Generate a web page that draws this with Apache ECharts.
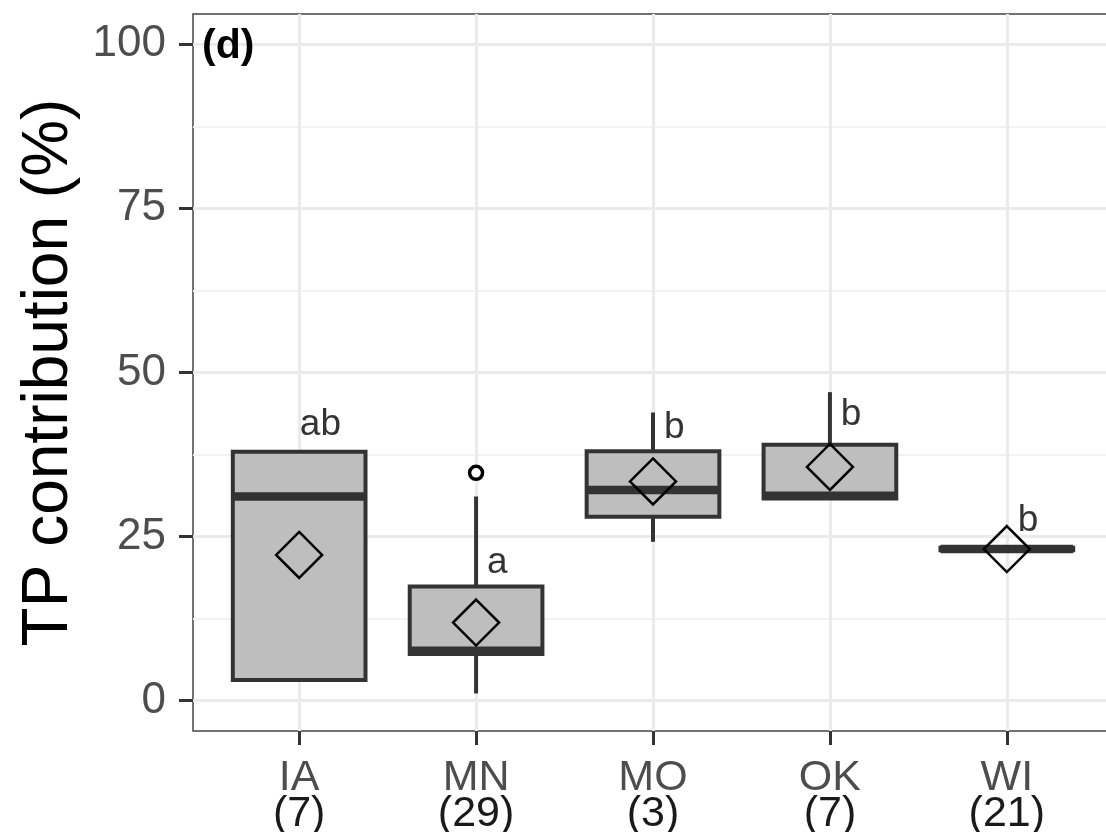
<!DOCTYPE html>
<html>
<head>
<meta charset="utf-8">
<script src="https://cdn.jsdelivr.net/npm/echarts@6/dist/echarts.min.js"></script>
<style>
html,body{margin:0;padding:0;background:#fff;}
#chart{width:1106px;height:832px;}
</style>
</head>
<body>
<div id="chart"></div>
<script>
// ---- data ----
const categories = ['IA', 'MN', 'MO', 'OK', 'WI'];
const counts = [7, 29, 3, 7, 21];
const whiskerLow = [3.15, 1.1, 24.2, 30.8, 22.9];
const q1 = [3.15, 7.1, 28.0, 30.8, 22.9];
const median = [31.1, 7.6, 32.1, 31.2, 23.1];
const q3 = [37.9, 17.4, 38.0, 39.0, 23.3];
const whiskerHigh = [37.9, 31.1, 43.9, 47.0, 23.3];
const means = [22.2, 11.9, 33.4, 35.6, 23.1];
const outlierCats = ['MN'];
const outlierValues = [34.7];
const letters = ['ab', 'a', 'b', 'b', 'b'];
const letterY = [42.0, 21.0, 41.6, 43.5, 27.4];
const yTicks = [0, 25, 50, 75, 100];
const yMinorTicks = [12.5, 37.5, 62.5, 87.5];

// ---- build series data ----
const catPos = categories.map((c, i) => i + 1);
const boxData = categories.map((c, i) => [i + 1, whiskerLow[i], q1[i], median[i], q3[i], whiskerHigh[i]]);
const meanData = categories.map((c, i) => [i + 1, means[i]]);
const outlierData = outlierCats.map((c, i) => [categories.indexOf(c) + 1, outlierValues[i]]);
const LETTER_NUDGE = 0.12;
const letterData = categories.map((c, i) => [i + 1 + LETTER_NUDGE, letterY[i], letters[i]]);

const FONT = 'Liberation Sans, Arial, sans-serif';
const BOX_WIDTH = 0.75;

const chart = echarts.init(document.getElementById('chart'), null, {renderer: 'canvas'});

const option = {
  backgroundColor: '#ffffff',
  animation: false,
  textStyle: {fontFamily: FONT},
  grid: {
    left: 193, top: 14, width: 920, height: 717,
    show: true, borderColor: '#444444', borderWidth: 1.5, backgroundColor: '#ffffff',
    containLabel: false, outerBoundsMode: 'none'
  },
  xAxis: {
    type: 'value', min: 0.4, max: 5.6,
    axisLine: {show: false, onZero: false},
    axisTick: {show: true, length: 14, customValues: catPos, lineStyle: {color: '#333333', width: 3}},
    splitLine: {show: true, lineStyle: {color: '#ebebeb', width: 3}},
    axisLabel: {
      customValues: catPos,
      margin: 29,
      formatter: v => {
        const i = Math.round(v) - 1;
        return '{a|' + categories[i] + '}\n{b|(' + counts[i] + ')}';
      },
      rich: {
        a: {fontSize: 43, color: '#4d4d4d', lineHeight: 36, fontFamily: FONT},
        b: {fontSize: 43, color: '#1a1a1a', lineHeight: 36, fontFamily: FONT}
      }
    }
  },
  yAxis: [{
    type: 'value', min: -4.62, max: 104.6,
    name: 'TP contribution (%)', nameLocation: 'middle', nameGap: 103,
    nameTextStyle: {fontSize: 64, color: '#000000', fontFamily: FONT},
    axisLine: {show: false, onZero: false},
    axisTick: {show: true, length: 14, customValues: yTicks, lineStyle: {color: '#333333', width: 3}},
    axisLabel: {customValues: yTicks, margin: 27, fontSize: 44, color: '#4d4d4d', fontFamily: FONT},
    splitLine: {show: true, lineStyle: {color: '#ebebeb', width: 3}}
  }, {
    type: 'value', min: -4.62, max: 104.6, position: 'left',
    axisLine: {show: false, onZero: false},
    axisTick: {show: false, customValues: yMinorTicks},
    axisLabel: {show: false, customValues: yMinorTicks},
    splitLine: {show: true, lineStyle: {color: '#f2f2f2', width: 2}}
  }],
  graphic: [{
    type: 'text', left: 202, top: 26, z: 100,
    style: {text: '(d)', font: 'bold 41px ' + FONT, fill: '#000000'}
  }],
  series: [{
    type: 'custom',
    name: 'box',
    data: boxData,
    encode: {x: 0, y: [1, 2, 3, 4, 5]},
    z: 2,
    renderItem: function (params, api) {
      const x = api.value(0);
      const lo = api.coord([x, api.value(1)]);
      const b1 = api.coord([x, api.value(2)]);
      const md = api.coord([x, api.value(3)]);
      const b3 = api.coord([x, api.value(4)]);
      const hi = api.coord([x, api.value(5)]);
      const half = api.size([BOX_WIDTH, 0])[0] / 2;
      const stroke = '#333333';
      const children = [];
      if (Math.abs(lo[1] - b1[1]) > 0.5) {
        children.push({type: 'line', shape: {x1: lo[0], y1: lo[1], x2: b1[0], y2: b1[1]}, style: {stroke: stroke, lineWidth: 4}});
      }
      if (Math.abs(hi[1] - b3[1]) > 0.5) {
        children.push({type: 'line', shape: {x1: hi[0], y1: hi[1], x2: b3[0], y2: b3[1]}, style: {stroke: stroke, lineWidth: 4}});
      }
      children.push({
        type: 'rect',
        shape: {x: md[0] - half, y: b3[1], width: half * 2, height: b1[1] - b3[1]},
        style: {fill: '#bebebe', stroke: stroke, lineWidth: 4}
      });
      children.push({
        type: 'line',
        shape: {x1: md[0] - half, y1: md[1], x2: md[0] + half, y2: md[1]},
        style: {stroke: stroke, lineWidth: 8.5}
      });
      return {type: 'group', children: children};
    }
  }, {
    type: 'scatter',
    name: 'outlier',
    data: outlierData,
    z: 3,
    symbol: 'circle', symbolSize: 13,
    itemStyle: {color: '#ffffff', borderColor: '#000000', borderWidth: 3.5, opacity: 1}
  }, {
    type: 'scatter',
    name: 'mean',
    data: meanData,
    z: 4,
    symbol: 'diamond', symbolSize: [46, 46],
    itemStyle: {color: 'rgba(0,0,0,0)', borderColor: '#000000', borderWidth: 2.5, opacity: 1}
  }, {
    type: 'scatter',
    name: 'letters',
    data: letterData,
    z: 5,
    symbolSize: 1,
    itemStyle: {color: 'rgba(0,0,0,0)'},
    label: {
      show: true, position: 'inside',
      formatter: p => p.value[2],
      fontSize: 37, color: '#000000', fontFamily: FONT
    }
  }]
};
chart.setOption(option);
</script>
</body>
</html>
